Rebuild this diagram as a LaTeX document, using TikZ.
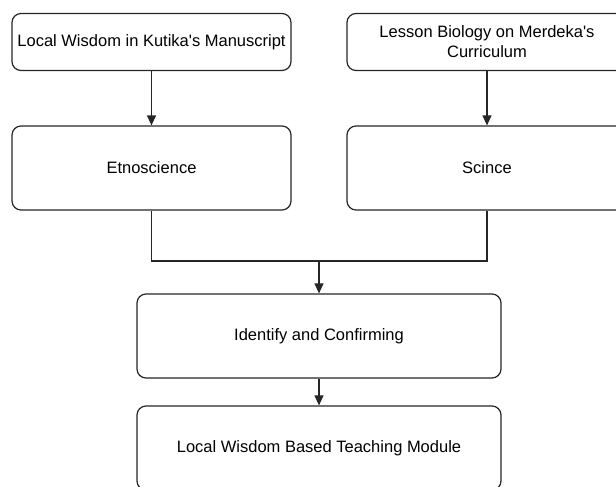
\documentclass[tikz,border=0pt]{standalone}
\usepackage{fontspec}
\setmainfont{Liberation Sans}
\usetikzlibrary{arrows.meta}

\tikzset{
	box/.style={draw=black!85, fill=white, rounded corners=9pt, line width=1.2pt, align=center, font=\fontsize{16.5}{20}\selectfont, inner sep=0pt},
	edge/.style={line width=1.2pt, draw=black!85},
	arr/.style={edge, -{Triangle[length=10pt, width=9pt]}}
}

\begin{document}
\begin{tikzpicture}[x=1pt, y=-1pt]
	\useasboundingbox (0,0) rectangle (616,487);

	% Define nodes in two columns and one centre column
	\node[box, minimum width=279pt, minimum height=57pt] (wisdom) at (151.5,42) {Local Wisdom in Kutika\textquotesingle s Manuscript};
	\node[box, minimum width=280pt, minimum height=57pt] (lesson) at (487,42) {Lesson Biology on Merdeka\textquotesingle s\\Curriculum};
	\node[box, minimum width=279pt, minimum height=84pt] (etno) at (151.5,168) {Etnoscience};
	\node[box, minimum width=280pt, minimum height=84pt] (sci) at (487,168) {Scince};
	\node[box, minimum width=364pt, minimum height=84pt] (ident) at (319,336) {Identify and Confirming};
	\node[box, minimum width=364pt, minimum height=84pt] (module) at (319,448) {Local Wisdom Based Teaching Module};
	\coordinate (join) at (319,261);

	% Draw connectors
	\draw[arr] (wisdom) -- (etno);
	\draw[arr] (lesson) -- (sci);
	\draw[edge] (etno.south) |- (join) -| (sci.south);
	\draw[arr] (join) -- (ident);
	\draw[arr] (ident) -- (module);

\end{tikzpicture}
\end{document}
